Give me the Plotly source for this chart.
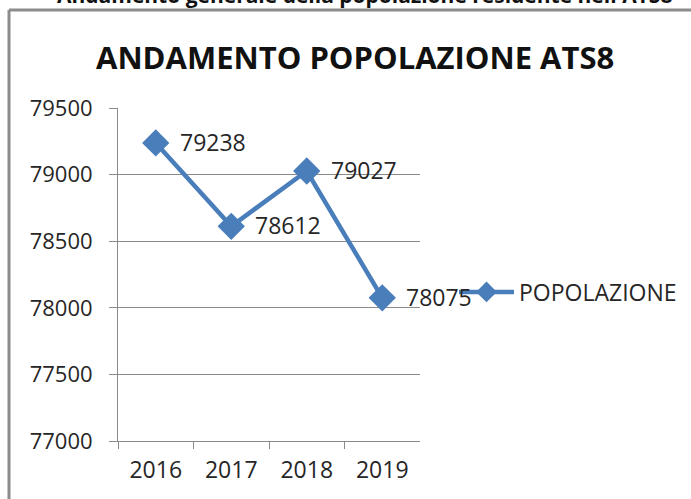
import plotly.graph_objects as go

years = ["2016", "2017", "2018", "2019"]
popolazione = [79238, 78612, 79027, 78075]
series_name = "POPOLAZIONE"
title_text = "ANDAMENTO POPOLAZIONE ATS8"
cut_text = "Andamento generale della popolazione residente nell'ATS8"

W, H = 691, 499
FONT = "Open Sans, Liberation Sans, sans-serif"
BLUE = "#4A7EBB"
TXT = "#262626"
GRID = "#8a8a8a"

fig = go.Figure()
fig.add_trace(go.Scatter(
    x=years, y=popolazione, name=series_name,
    mode="lines+markers",
    line=dict(color=BLUE, width=4.5),
    marker=dict(symbol="diamond", size=21, color=BLUE),
    cliponaxis=False,
))

def px(x):
    return x / W

def py(y):
    return (H - y) / H

labels = [dict(x=i, y=v, xref="x", yref="y", text=str(v), showarrow=False,
               xanchor="left", yanchor="middle", xshift=22, yshift=1,
               font=dict(family=FONT, size=23, color=TXT))
          for i, v in enumerate(popolazione)]

fig.update_layout(
    width=W, height=H,
    margin=dict(l=0, r=0, t=0, b=0, autoexpand=False),
    paper_bgcolor="white", plot_bgcolor="white",
    font=dict(family=FONT, color=TXT),
    showlegend=True,
    legend=dict(
        x=px(454), y=py(292), xanchor="left", yanchor="middle",
        font=dict(family=FONT, size=23, color=TXT),
        bgcolor="rgba(0,0,0,0)", itemwidth=55,
    ),
    xaxis=dict(
        domain=[px(118), px(420)], automargin=False,
        type="category", range=[-0.5, 3.5],
        tickson="boundaries", ticks="outside", ticklen=7, tickcolor=GRID,
        showline=True, linecolor=GRID, linewidth=1,
        showgrid=False, ticklabelstandoff=8,
        tickfont=dict(family=FONT, size=23, color=TXT),
    ),
    yaxis=dict(
        domain=[py(441), py(108)], automargin=False,
        range=[77000, 79500], dtick=500, tick0=77000,
        ticks="outside", ticklen=8, tickcolor=GRID,
        showline=True, linecolor=GRID, linewidth=1,
        showgrid=True, gridcolor=GRID, gridwidth=1,
        ticklabelstandoff=12,
        tickfont=dict(family=FONT, size=22, color=TXT),
        tickformat="d", zeroline=False,
    ),
    shapes=[
        dict(type="line", xref="paper", yref="paper",
             x0=px(9), x1=1.01, y0=py(10), y1=py(10),
             line=dict(color="#8c8c8c", width=3)),
        dict(type="line", xref="paper", yref="paper",
             x0=px(9), x1=px(9), y0=py(10), y1=-0.01,
             line=dict(color="#8c8c8c", width=3)),
    ],
    annotations=labels + [
        dict(text="<b>" + title_text + "</b>", xref="paper", yref="paper",
             x=px(355), y=py(57), xanchor="center", yanchor="middle",
             showarrow=False, font=dict(family=FONT, size=31, color="#111111")),
        dict(text="<b>" + cut_text + "</b>", xref="paper", yref="paper",
             x=px(55), y=py(-5), xanchor="left", yanchor="middle",
             showarrow=False, font=dict(family=FONT, size=21, color="#111111")),
    ],
)

fig.write_html("out.html", config={"displayModeBar": False},
               post_script="document.body.style.margin='0';")
